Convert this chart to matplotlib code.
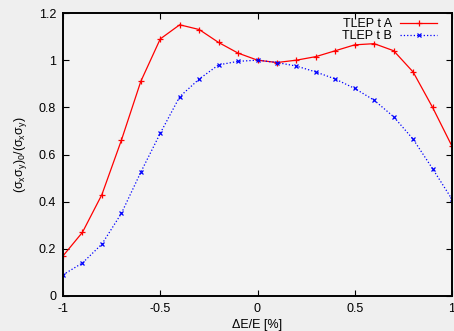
import matplotlib
matplotlib.use("Agg")
import matplotlib.pyplot as plt
from matplotlib.ticker import FuncFormatter

plt.rcParams['font.family'] = ['Liberation Sans', 'DejaVu Sans']
plt.rcParams['axes.unicode_minus'] = False
plt.rcParams['mathtext.fontset'] = 'custom'
plt.rcParams['mathtext.rm'] = 'Liberation Sans'
plt.rcParams['mathtext.it'] = 'Liberation Sans'

x = [-1.0, -0.9, -0.8, -0.7, -0.6, -0.5, -0.4, -0.3, -0.2, -0.1, 0.0,
     0.1, 0.2, 0.3, 0.4, 0.5, 0.6, 0.7, 0.8, 0.9, 1.0]
tlep_a = [0.17, 0.27, 0.43, 0.66, 0.91, 1.09, 1.15, 1.13, 1.075, 1.03, 1.0,
          0.99, 1.0, 1.015, 1.04, 1.065, 1.07, 1.04, 0.95, 0.80, 0.635]
tlep_b = [0.09, 0.14, 0.22, 0.35, 0.525, 0.69, 0.845, 0.92, 0.98, 0.995, 1.0,
          0.99, 0.975, 0.95, 0.92, 0.88, 0.83, 0.76, 0.665, 0.54, 0.41]
xticks = [-1, -0.5, 0, 0.5, 1]
yticks = [0, 0.2, 0.4, 0.6, 0.8, 1.0, 1.2]

fig = plt.figure(figsize=(4.54, 3.31), dpi=100, facecolor='#efefef')
ax = fig.add_axes([63/454, 35/331, 389/454, 283/331])
ax.set_facecolor('#f3f3f3')

ax.plot(x, tlep_a, color='red', lw=0.9, marker='+', ms=5, mew=0.9, label='TLEP t A')
ax.plot(x, tlep_b, color='blue', lw=0.9, ls=':', marker='x', ms=3.5, mew=0.9, label='TLEP t B')

ax.set_xlim(-1, 1)
ax.set_ylim(0, 1.2)
ax.set_xticks(xticks)
ax.set_yticks(yticks)
fmt = FuncFormatter(lambda v, p: ('%g' % v))
ax.xaxis.set_major_formatter(fmt)
ax.yaxis.set_major_formatter(fmt)
ax.tick_params(direction='in', top=True, right=True, length=4, width=0.8, labelsize=9, pad=5)
for s in ax.spines.values():
    s.set_linewidth(1.4)

ax.set_xlabel('ΔE/E [%]', fontsize=9, labelpad=3)
ax.set_ylabel(r'$(\sigma_x\sigma_y)_0/(\sigma_x\sigma_y)$', fontsize=9, labelpad=7)

ax.legend(loc='upper right', bbox_to_anchor=(0.975, 1.0), frameon=False,
          markerfirst=False, fontsize=9, handlelength=3.0, borderaxespad=0.1,
          labelspacing=0.0, handletextpad=0.6, borderpad=0.3)

fig.savefig('out.png', dpi=100, facecolor=fig.get_facecolor())
